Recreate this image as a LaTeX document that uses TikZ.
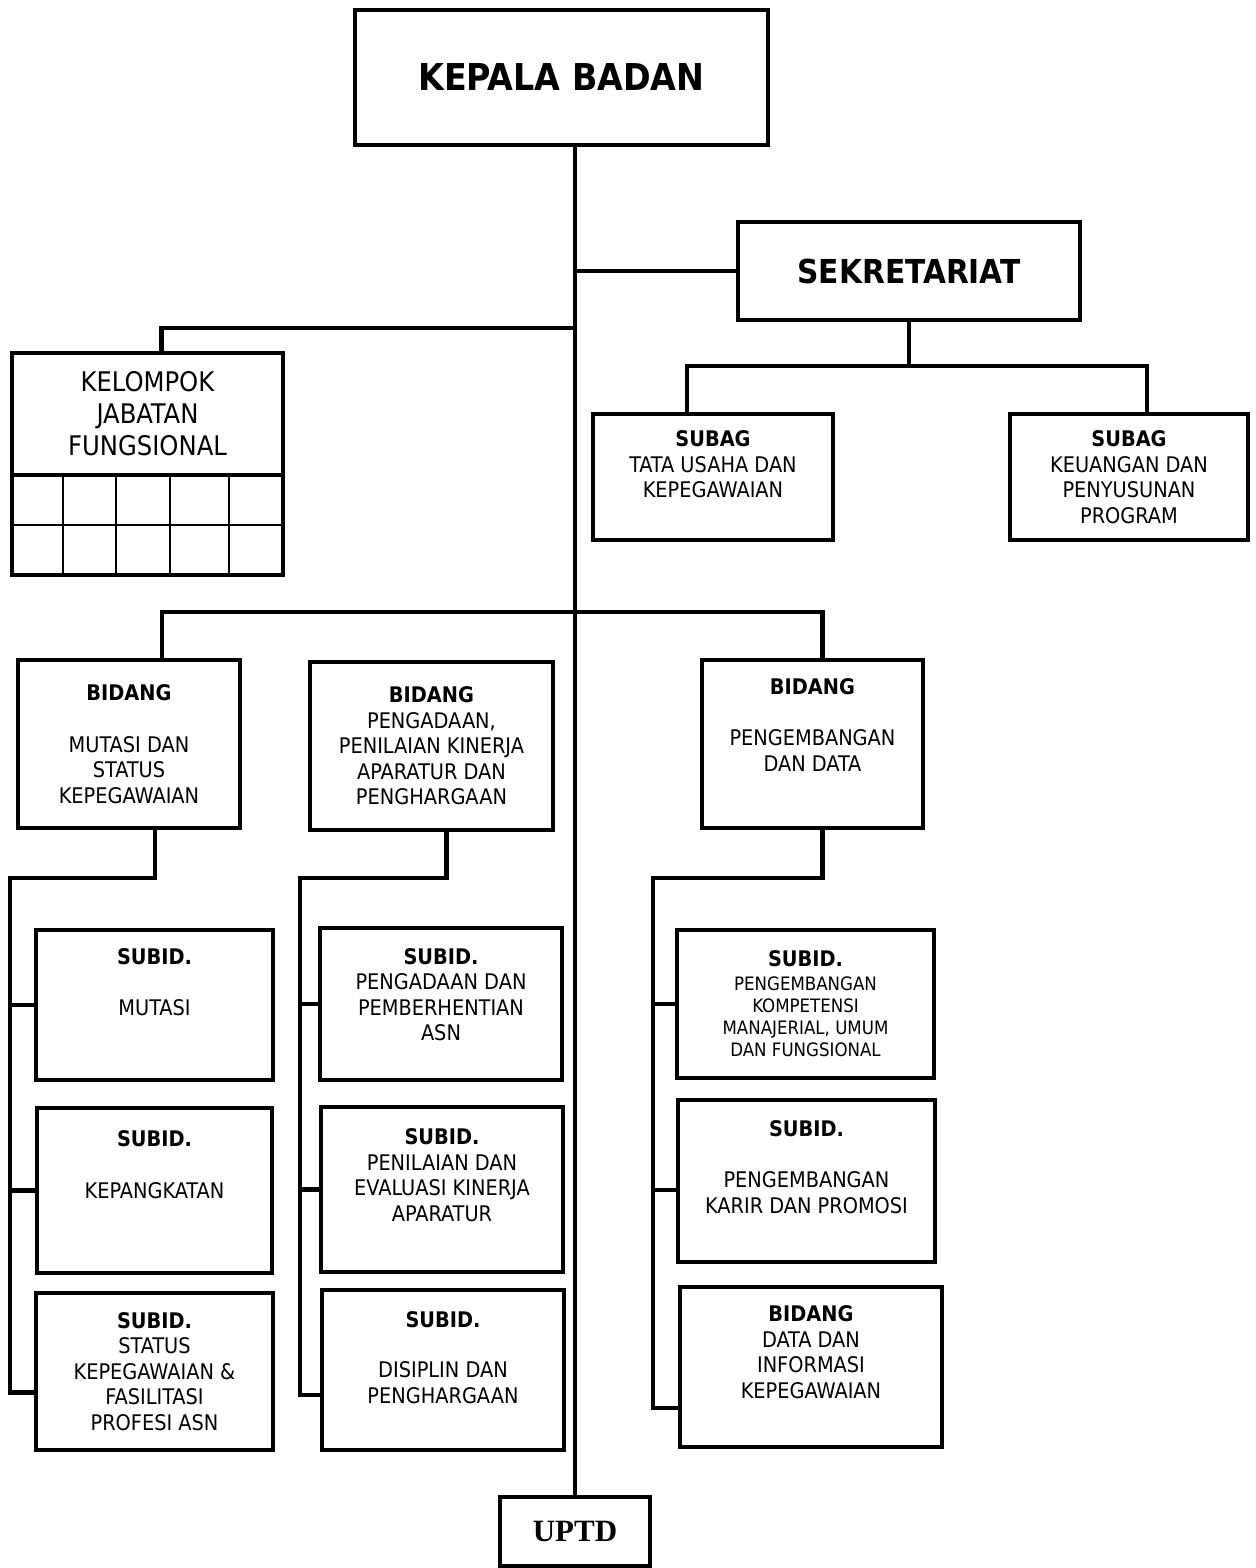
\documentclass[tikz,border=0pt]{standalone}
\usepackage{fontspec}
\setmainfont{DejaVu Sans Condensed}
\newfontfamily\uptdfont{Liberation Serif}
\begin{document}
\begin{tikzpicture}[x=1pt,y=-1pt, line join=miter,
	kotak/.style={draw,line width=4.5pt,inner sep=0pt,outer sep=0pt,align=center,font=\fontsize{21.5}{25.5}\selectfont},
	garis/.style={line width=4.5pt},
	kecil/.style={font=\fontsize{18.5}{22}\selectfont}]
	\useasboundingbox (0,0) rectangle (1255,1568);
	\node[kotak,minimum width=413pt,minimum height=135pt,font=\fontsize{37}{44}\selectfont\bfseries] (kepala) at (561.5,77.5) {KEPALA BADAN};
	\node[kotak,minimum width=342pt,minimum height=98pt,font=\fontsize{33}{40}\selectfont\bfseries] (sekretariat) at (909,271) {SEKRETARIAT};
	\node[kotak,minimum width=240pt,minimum height=126pt] (subagtu) at (713,477) {\textbf{SUBAG}\\TATA USAHA DAN\\KEPEGAWAIAN\\\mbox{}};
	\node[kotak,minimum width=238pt,minimum height=126pt] (subagkeu) at (1129,477) {\textbf{SUBAG}\\KEUANGAN DAN\\PENYUSUNAN\\PROGRAM};
	\node[kotak,minimum width=271pt,minimum height=122pt,font=\fontsize{27}{32}\selectfont] (kelompok) at (147.5,414) {KELOMPOK\\JABATAN\\FUNGSIONAL};
	\node[kotak,minimum width=271pt,minimum height=100pt,anchor=north] (jabfung) at (kelompok.south) {};
	\draw[line width=2.5pt] (jabfung.west) -- (jabfung.east);
	\foreach \i in {51,104,158,217}{
		\draw[line width=2.5pt] ([xshift=\i pt]jabfung.north west) -- ([xshift=\i pt]jabfung.south west);
	}
	\node[kotak,minimum width=222pt,minimum height=168pt] (bidmutasi) at (129,744) {\textbf{BIDANG}\\[26pt]MUTASI DAN\\STATUS\\KEPEGAWAIAN};
	\node[kotak,minimum width=243pt,minimum height=168pt] (bidpengadaan) at (431.5,746) {\textbf{BIDANG}\\PENGADAAN,\\PENILAIAN KINERJA\\APARATUR DAN\\PENGHARGAAN};
	\node[kotak,minimum width=221pt,minimum height=168pt] (bidpengembangan) at (812.5,744) {\textbf{BIDANG}\\[26pt]PENGEMBANGAN\\DAN DATA\\[13pt]\mbox{}};
	\node[kotak,minimum width=237pt,minimum height=150pt] (subidmutasi) at (154.5,1005) {\textbf{SUBID.}\\[25pt]MUTASI\\[20pt]\mbox{}};
	\node[kotak,minimum width=235pt,minimum height=165pt] (subidpangkat) at (154.5,1190.5) {\textbf{SUBID.}\\[26pt]KEPANGKATAN\\[26pt]\mbox{}};
	\node[kotak,minimum width=237pt,minimum height=157pt] (subidstatus) at (154.5,1371.5) {\textbf{SUBID.}\\STATUS\\KEPEGAWAIAN \&\\FASILITASI\\PROFESI ASN};
	\node[kotak,minimum width=242pt,minimum height=152pt] (subidpengadaan) at (441,1004) {\textbf{SUBID.}\\PENGADAAN DAN\\PEMBERHENTIAN\\ASN\\[-7pt]\mbox{}};
	\node[kotak,minimum width=242pt,minimum height=165pt] (subidpenilaian) at (442,1189.5) {\textbf{SUBID.}\\PENILAIAN DAN\\EVALUASI KINERJA\\APARATUR\\[3pt]\mbox{}};
	\node[kotak,minimum width=242pt,minimum height=160pt] (subiddisiplin) at (443,1370) {\textbf{SUBID.}\\[25pt]DISIPLIN DAN\\PENGHARGAAN\\\mbox{}};
	\node[kotak,kecil,minimum width=257pt,minimum height=148pt] (subidkompetensi) at (805.5,1004) {{\fontsize{21.5}{25.5}\selectfont\bfseries SUBID.}\\[2pt]PENGEMBANGAN\\KOMPETENSI\\MANAJERIAL, UMUM\\DAN FUNGSIONAL};
	\node[kotak,minimum width=257pt,minimum height=162pt] (subidkarir) at (806.5,1181) {\textbf{SUBID.}\\[26pt]PENGEMBANGAN\\KARIR DAN PROMOSI\\[3pt]\mbox{}};
	\node[kotak,minimum width=262pt,minimum height=160pt] (biddata) at (811,1367) {\textbf{BIDANG}\\DATA DAN\\INFORMASI\\KEPEGAWAIAN\\[4pt]\mbox{}};
	\node[kotak,minimum width=150pt,minimum height=69pt,font=\uptdfont\fontsize{31}{36}\selectfont\bfseries] (uptd) at (575,1531.5) {UPTD};
	\path
	(575,328)coordinate (kelcabang)
	(575,612)coordinate (bidcabang)
	(909,366)coordinate (sekcabang)
	(10,878)coordinate (rel1)
	(300,878)coordinate (rel2)
	(653,878)coordinate (rel3)
	;
	\draw[garis] (kepala.south -| uptd.north) -- (uptd.north);
	\draw[garis] (sekretariat.west -| uptd.north) -- (sekretariat.west);
	\draw[garis] (sekretariat.south) -- (sekcabang);
	\draw[garis] ([xshift=-26pt]subagtu.north) |- (sekcabang) -| ([xshift=18pt]subagkeu.north);
	\draw[garis] (kelcabang) -| ([xshift=14pt]kelompok.north);
	\draw[garis] ([xshift=33pt]bidmutasi.north) |- (bidcabang) -| ([xshift=10pt]bidpengembangan.north);
	\draw[garis] ([xshift=26pt]bidmutasi.south) |- (rel1) |- ([yshift=-21pt]subidstatus.west);
	\draw[garis] ([xshift=15pt]bidpengadaan.south) |- (rel2) |- ([yshift=-25pt]subiddisiplin.west);
	\draw[garis] ([xshift=10pt]bidpengembangan.south) |- (rel3) |- ([yshift=-41pt]biddata.west);
	\foreach \s in {subidmutasi,subidpangkat}{
		\draw[garis] (\s.west -| rel1) -- (\s.west);
	}
	\foreach \s in {subidpengadaan,subidpenilaian}{
		\draw[garis] (\s.west -| rel2) -- (\s.west);
	}
	\draw[garis] (subidkompetensi.west -| rel3) -- (subidkompetensi.west);
	\draw[garis] ([yshift=-9pt]subidkarir.west -| rel3) -- ([yshift=-9pt]subidkarir.west);
\end{tikzpicture}
\end{document}
